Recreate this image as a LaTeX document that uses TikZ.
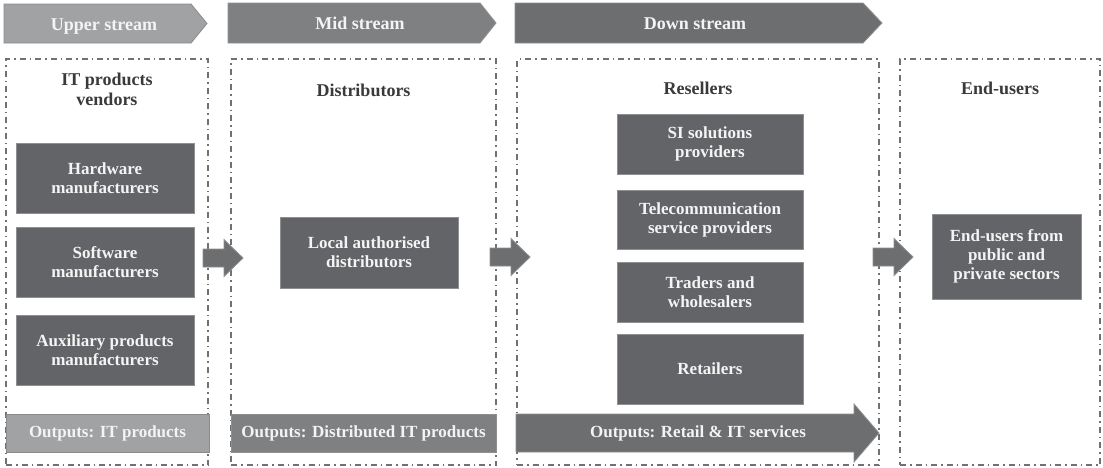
\documentclass[tikz,border=0pt]{standalone}
\usepackage{fontspec}
\setmainfont{Liberation Serif}
\definecolor{boxfill}{HTML}{636467}
\definecolor{boxedge}{HTML}{8E8F91}
\definecolor{hdrA}{HTML}{A1A2A4}
\definecolor{hdrAedge}{HTML}{8A8B8D}
\definecolor{hdrB}{HTML}{7F8082}
\definecolor{hdrC}{HTML}{6D6E70}
\definecolor{dashc}{HTML}{707173}
\definecolor{titlec}{HTML}{3A3A3A}
\definecolor{whitetext}{HTML}{F4F4F4}
\newcommand{\blockarrow}[3]{\filldraw[flow] (#1,#3-9) -- (#1+21,#3-9) -- (#1+21,#3-18.5) -- (#2,#3) -- (#1+21,#3+18.5) -- (#1+21,#3+9) -- (#1,#3+9) -- cycle;}
\begin{document}
\begin{tikzpicture}[x=1pt,y=-1pt,
  darkbox/.style={draw=boxedge, line width=0.8pt, fill=boxfill, text=whitetext, align=center, inner sep=0pt, font=\fontsize{17}{19}\selectfont\bfseries},
  coltitle/.style={text=titlec, align=center, font=\fontsize{18}{20}\selectfont\bfseries},
  column/.style={draw=dashc, line width=1.3pt, dash pattern=on 6pt off 4pt on 1.5pt off 4pt, inner sep=0pt},
  hdrtext/.style={text=whitetext, anchor=base, font=\fontsize{18}{20}\selectfont\bfseries},
  outtext/.style={text=whitetext, inner sep=0pt, font=\fontsize{17}{19}\selectfont\bfseries},
  flow/.style={fill=hdrC, draw=boxedge, line width=0.8pt}
]
\useasboundingbox (0,0) rectangle (1103,467);

% header arrows
\filldraw[fill=hdrA, draw=hdrAedge, line width=0.8pt] (4,4) -- (191,4) -- (207,23.5) -- (191,43) -- (4,43) -- cycle;
\node[hdrtext] (h1) at (104,30) {Upper stream};
\filldraw[fill=hdrB, draw=boxedge, line width=0.8pt] (228,3) -- (480,3) -- (496,23) -- (480,43) -- (228,43) -- cycle;
\node[hdrtext] (h2) at (360,29.5) {Mid stream};
\filldraw[fill=hdrC, draw=boxedge, line width=0.8pt] (515,3) -- (863,3) -- (882,23) -- (863,43) -- (515,43) -- cycle;
\node[hdrtext] (h3) at (695,29.5) {Down stream};

% columns
\node[column, minimum width=202pt, minimum height=406pt] (col1) at (107,262) {};
\node[column, minimum width=265pt, minimum height=406pt] (col2) at (363.5,262) {};
\node[column, minimum width=362pt, minimum height=406pt] (col3) at (698,262) {};
\node[column, minimum width=200pt, minimum height=406pt] (col4) at (1000,262) {};

% titles
\node[coltitle] (t1) at (107,89) {IT products\\vendors};
\node[coltitle] (t2) at (363.5,90) {Distributors};
\node[coltitle] (t3) at (698,88) {Resellers};
\node[coltitle] (t4) at (1000,88) {End-users};

% boxes
\node[darkbox, minimum width=178pt, minimum height=70pt] (hw) at (105,178) {Hardware\\manufacturers};
\node[darkbox, minimum width=178pt, minimum height=70pt] (sw) at (105,262) {Software\\manufacturers};
\node[darkbox, minimum width=178pt, minimum height=70pt] (aux) at (105,350) {Auxiliary products\\manufacturers};
\node[darkbox, minimum width=178pt, minimum height=71pt] (loc) at (369,252.5) {Local authorised\\distributors};
\node[darkbox, minimum width=186pt, minimum height=60pt] (si) at (710,144) {SI solutions\\providers};
\node[darkbox, minimum width=186pt, minimum height=59pt] (tel) at (710,219.5) {Telecommunication\\service providers};
\node[darkbox, minimum width=186pt, minimum height=60pt] (trd) at (710,292) {Traders and\\wholesalers};
\node[darkbox, minimum width=186pt, minimum height=70pt] (ret) at (710,369) {Retailers};
\node[darkbox, minimum width=149pt, minimum height=85pt] (eu) at (1006.5,256.5) {End-users from\\public and\\private sectors};

% flow arrows between columns
\blockarrow{203}{243}{258}
\blockarrow{490}{530}{257}
\blockarrow{873}{913}{257}

% outputs
\node[outtext, fill=hdrA, draw=hdrAedge, line width=0.8pt, minimum width=203pt, minimum height=38pt] (o1) at (107.5,433) {Outputs: IT products};
\node[outtext, fill=hdrB, draw=boxedge, line width=0.8pt, minimum width=265pt, minimum height=38pt] (o2) at (363.5,433) {Outputs: Distributed IT products};
\filldraw[fill=hdrC, draw=boxedge, line width=0.8pt] (516,414) -- (854,414) -- (854,404) -- (879,433) -- (854,462) -- (854,452) -- (516,452) -- cycle;
\node[outtext] (o3) at (698,433) {Outputs: Retail \& IT services};
\end{tikzpicture}
\end{document}
